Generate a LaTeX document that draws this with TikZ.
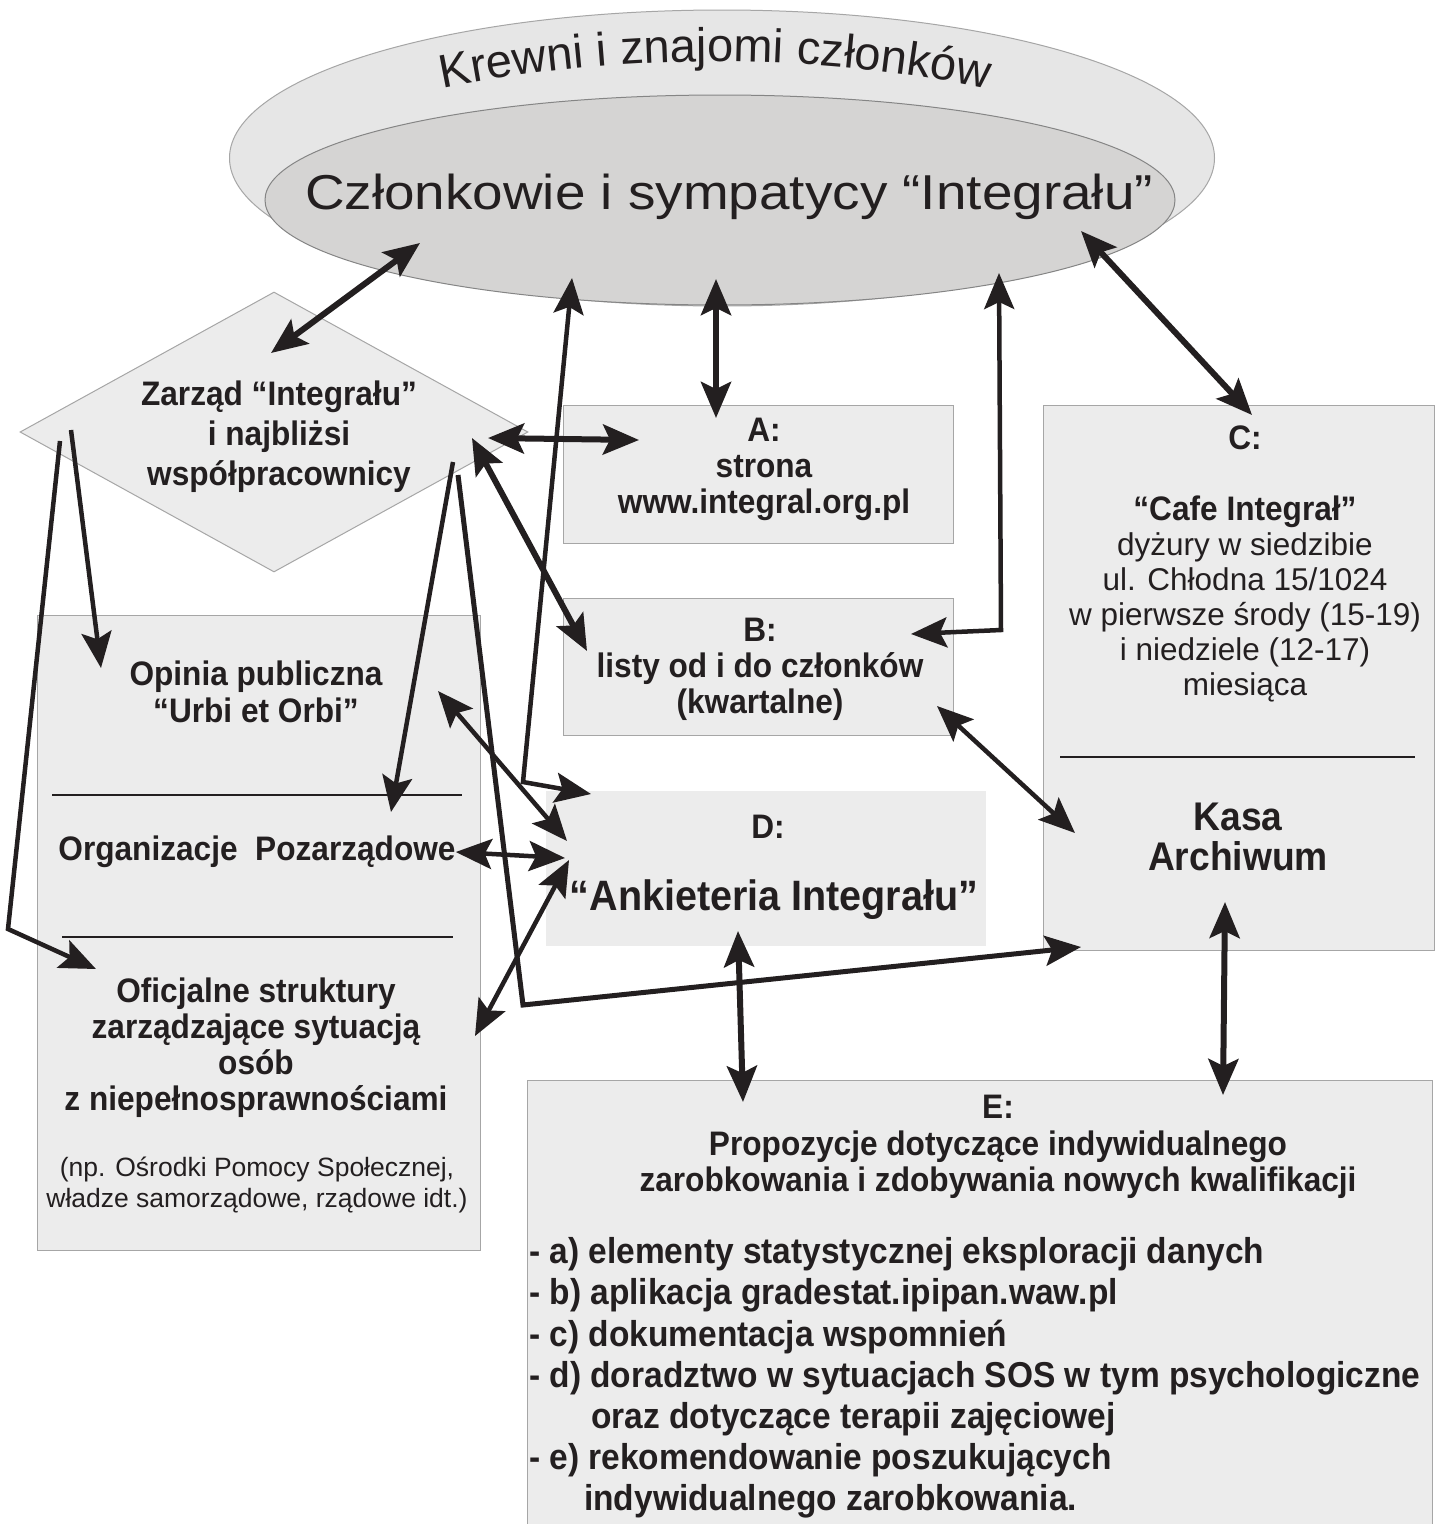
\documentclass[tikz,border=0pt]{standalone}
\usepackage{fontspec}
\setmainfont{Liberation Sans}
\newfontfamily\waski{Liberation Sans}[FakeStretch=0.93]
\newfontfamily\szeroki{Liberation Sans}[FakeStretch=1.12]
\usetikzlibrary{arrows.meta,shapes.geometric,decorations.text}

\definecolor{tekst}{HTML}{231F20}
\definecolor{jasny}{HTML}{E6E6E6}
\definecolor{ciemny}{HTML}{D5D4D3}
\definecolor{pole}{HTML}{ECECEC}
\definecolor{ramka}{HTML}{A6A6A6}

\newcommand{\gruby}[2]{\fontsize{#1}{#2}\waski\bfseries}

\tikzset{
	pudlo/.style={draw=ramka, fill=pole, line width=1pt, anchor=north west, inner sep=0pt},
	napis/.style={text=tekst, align=center, inner sep=0pt},
	grot/.tip={Stealth[length=36pt, width=30pt, inset=7pt]},
	gruba/.style={draw=tekst, line width=6pt},
	cienka/.style={draw=tekst, line width=4.5pt}
}

\begin{document}
\begin{tikzpicture}[x=1pt, y=-1pt]
\path[use as bounding box, fill=white] (0,0) rectangle (1442,1524);

\node[ellipse, draw=ramka, fill=jasny, line width=1pt, minimum width=985pt, minimum height=296pt, inner sep=0pt] (krewni) at (722,158) {};
\node[ellipse, draw=ramka!80!black, fill=ciemny, line width=1pt, minimum width=910pt, minimum height=210pt, inner sep=0pt] (czlonkowie) at (720,200) {};
\path[decorate, decoration={text along path, text align=center,
	text={|\fontsize{47}{50}\selectfont\color{tekst}|Krewni i znajomi członków}}]
	(410,96) .. controls (600,50) and (830,50) .. (1020,96);
\node[napis, font=\fontsize{49}{54}\szeroki] (tCzl) at (729,197) {Członkowie i sympatycy “Integrału”};

\node[diamond, draw=ramka, fill=pole, line width=1pt, minimum width=508pt, minimum height=280pt, inner sep=0pt] (zarzad) at (274,432) {};
\node[napis, font=\gruby{34}{40}] (tZarzad) at (279,437) {Zarząd “Integrału”\\i najbliżsi\\współpracownicy};

\node[pudlo, minimum width=390pt, minimum height=138pt] (A) at (563,405) {};
\node[pudlo, minimum width=390pt, minimum height=137pt] (B) at (563,598) {};
\node[pudlo, minimum width=391pt, minimum height=545pt] (C) at (1043,405) {};
\node[pudlo, draw=none, minimum width=440pt, minimum height=155pt] (D) at (545,790) {};
\node[pudlo, minimum width=443pt, minimum height=635pt] (lewy) at (37,615) {};
\node[pudlo, minimum width=905pt, minimum height=480pt] (E) at (527,1080) {};

\node[napis, font=\gruby{34}{36}] (tA) at (764,469) {A:\\strona\\www.integral.org.pl};
\node[napis, font=\gruby{34}{36}] (tB) at (760,669) {B:\\listy od i do członków\\(kwartalne)};
\node[napis, font=\gruby{34}{36}] (tC) at (1245,438) {C:};
\node[napis, font=\fontsize{31.5}{35}\selectfont] (tCafe) at (1245,599) {{\gruby{34}{36}“Cafe Integrał”}\\dyżury w siedzibie\\ul. Chłodna 15/1024\\w pierwsze środy (15-19)\\i niedziele (12-17)\\miesiąca};
\draw[tekst, line width=2.5pt] (1060,757) -- (1415,757);
\node[napis, font=\gruby{40}{40}] (tKasa) at (1238,837) {Kasa\\Archiwum};
\node[napis, font=\gruby{34}{36}] (tD) at (768,827) {D:};
\node[napis, font=\gruby{42.5}{46}] (tAnk) at (774,900) {“Ankieteria Integrału”};

\node[napis, font=\gruby{34}{37}] (tOpinia) at (256,692) {Opinia publiczna\\“Urbi et Orbi”};
\draw[tekst, line width=2.5pt] (52,795) -- (462,795);
\node[napis, font=\gruby{34}{36}] (tOrg) at (257,852) {Organizacje\ \ Pozarządowe};
\draw[tekst, line width=2.5pt] (62,937) -- (453,937);
\node[napis, font=\gruby{34}{36}] (tOfic) at (256,1048) {Oficjalne struktury\\zarządzające sytuacją\\osób\\z niepełnosprawnościami};
\node[napis, font=\fontsize{26.5}{30.5}\selectfont] (tNp) at (257,1185) {(np. Ośrodki Pomocy Społecznej,\\władze samorządowe, rządowe idt.)};

\node[napis, font=\gruby{34}{36.5}] (tE) at (998,1147) {E:\\Propozycje dotyczące indywidualnego\\zarobkowania i zdobywania nowych kwalifikacji};
\node[napis, align=left, anchor=west, font=\gruby{36}{41.2}] (tLista) at (529,1378) {- a) elementy statystycznej eksploracji danych\\- b) aplikacja gradestat.ipipan.waw.pl\\- c) dokumentacja wspomnień\\- d) doradztwo w sytuacjach SOS w tym psychologiczne\\\hspace*{62pt}oraz dotyczące terapii zajęciowej\\- e) rekomendowanie poszukujących\\\hspace*{55pt}indywidualnego zarobkowania.};

\coordinate (zc1) at (271,353); \coordinate (zc2) at (420,243);
\coordinate (ca1) at (716,279); \coordinate (ca2) at (716,418);
\coordinate (cd1) at (572,278); \coordinate (cd2) at (523,782); \coordinate (cd3) at (591,794);
\coordinate (cb1) at (999,273); \coordinate (cb2) at (1001,630); \coordinate (cb3) at (911,634);
\coordinate (cc1) at (1081,231); \coordinate (cc2) at (1252,415);
\coordinate (za1) at (488,438); \coordinate (za2) at (639,440);
\coordinate (zb1) at (472,438); \coordinate (zb2) at (587,651);
\coordinate (zo1) at (453,462); \coordinate (zo2) at (391,812);
\coordinate (zp1) at (71,430); \coordinate (zp2) at (101,668);
\coordinate (zf1) at (60,441); \coordinate (zf2) at (8,929); \coordinate (zf3) at (96,969);
\coordinate (zk1) at (458,475); \coordinate (zk2) at (523,1005); \coordinate (zk3) at (1081,947);
\coordinate (pd1) at (438,691); \coordinate (pd2) at (567,841);
\coordinate (od2) at (565,858);
\coordinate (fd1) at (475,1036); \coordinate (fd2) at (569,860);
\coordinate (bk1) at (937,706); \coordinate (bk2) at (1075,833);
\coordinate (de1) at (738,931); \coordinate (de2) at (743,1102);
\coordinate (ke1) at (1225,902); \coordinate (ke2) at (1223,1095);

\draw[gruba, grot-grot] (zc1) -- (zc2);
\draw[gruba, grot-grot] (ca1) -- (ca2);
\draw[cienka, grot-grot] (cd1) -- (cd2) -- (cd3);
\draw[cienka, grot-grot] (cb1) -- (cb2) -- (cb3);
\draw[gruba, grot-grot] (cc1) -- (cc2);
\draw[gruba, grot-grot] (za1) -- (za2);
\draw[gruba, grot-grot] (zb1) -- (zb2);
\draw[cienka, -grot] (zo1) -- (zo2);
\draw[cienka, -grot] (zp1) -- (zp2);
\draw[cienka, -grot] (zf1) -- (zf2) -- (zf3);
\draw[cienka, line width=5pt, -grot] (zk1) -- (zk2) -- (zk3);
\draw[cienka, grot-grot] (pd1) -- (pd2);
\draw[cienka, grot-grot] (tOrg.east) -- (od2);
\draw[cienka, grot-grot] (fd1) -- (fd2);
\draw[cienka, grot-grot] (bk1) -- (bk2);
\draw[gruba, grot-grot] (de1) -- (de2);
\draw[gruba, grot-grot] (ke1) -- (ke2);
\end{tikzpicture}
\end{document}
